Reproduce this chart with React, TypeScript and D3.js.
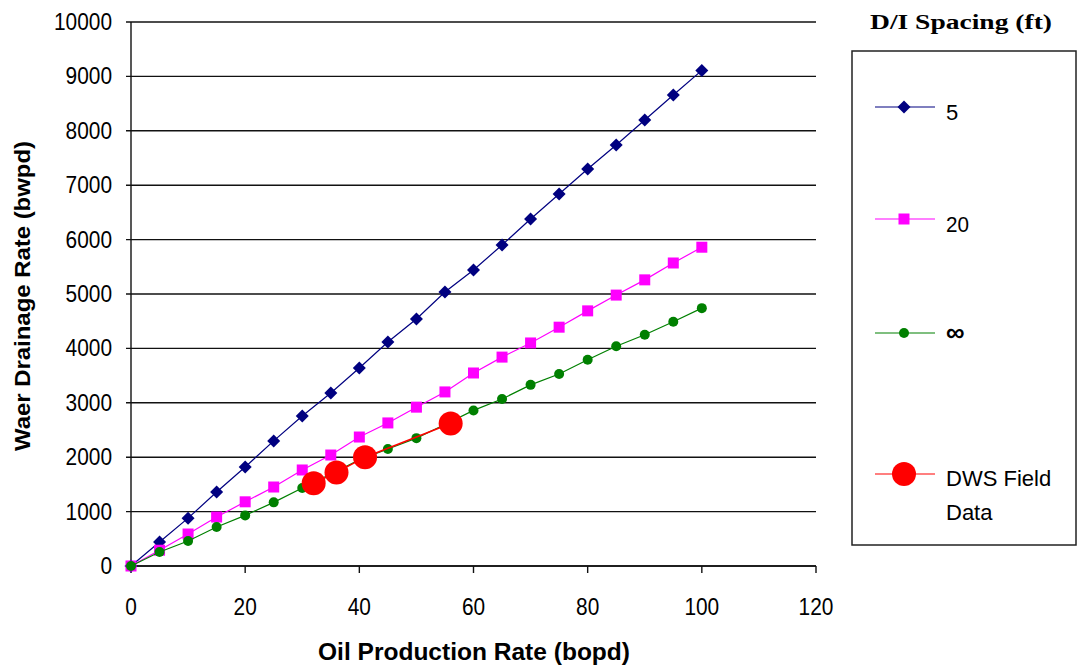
import React from "react";
import * as d3 from "d3";

const oilRates = [0, 5, 10, 15, 20, 25, 30, 35, 40, 45, 50, 55, 60, 65, 70, 75, 80, 85, 90, 95, 100];
const spacing5 = [0, 440, 880, 1360, 1820, 2300, 2757, 3180, 3640, 4118, 4540, 5037, 5441, 5900, 6378, 6838, 7298, 7739, 8199, 8658, 9110];
const spacing20 = [0, 290, 588, 900, 1180, 1452, 1765, 2040, 2371, 2630, 2920, 3200, 3548, 3840, 4100, 4390, 4690, 4980, 5260, 5570, 5860];
const spacingInf = [0, 257, 460, 717, 930, 1170, 1434, 1690, 1950, 2150, 2350, 2600, 2860, 3070, 3330, 3530, 3790, 4040, 4250, 4490, 4740];
const fieldOil = [32, 36, 41, 56];
const fieldWater = [1520, 1720, 2000, 2620];
const xTicks = [0, 20, 40, 60, 80, 100, 120];
const yTicks = [0, 1000, 2000, 3000, 4000, 5000, 6000, 7000, 8000, 9000, 10000];
const legendLabels = ["5", "20", "\u221E", "DWS Field Data"];

const x = d3.scaleLinear().domain([0, 120]).range([131, 816]);
const y = d3.scaleLinear().domain([0, 10000]).range([566, 22]);

const SANS = "'Liberation Sans', Arial, sans-serif";
const DIGIT_W = 11.6;

function Marker({ kind, cx, cy, color }: { kind: string; cx: number; cy: number; color: string }) {
  if (kind === "diamond") {
    const r = 6.5;
    return <path d={`M${cx},${cy - r}L${cx + r},${cy}L${cx},${cy + r}L${cx - r},${cy}Z`} fill={color} />;
  }
  if (kind === "square") {
    return <rect x={cx - 5.5} y={cy - 5.5} width={11} height={11} fill={color} />;
  }
  if (kind === "big") {
    return <circle cx={cx} cy={cy} r={12} fill={color} />;
  }
  return <circle cx={cx} cy={cy} r={5} fill={color} />;
}

function Num({ value, xx, yy, anchor }: { value: number; xx: number; yy: number; anchor: string }) {
  const s = String(value);
  return (
    <text
      x={xx}
      y={yy}
      textAnchor={anchor}
      fontFamily={SANS}
      fontSize={23}
      textLength={s.length * DIGIT_W}
      lengthAdjust="spacingAndGlyphs"
      fill="#000"
    >
      {s}
    </text>
  );
}

export default function App() {
  const line = d3
    .line<[number, number]>()
    .x((d) => x(d[0]))
    .y((d) => y(d[1]));

  const series = [
    { values: spacing5, color: "#000080", kind: "diamond" },
    { values: spacing20, color: "#FF00FF", kind: "square" },
    { values: spacingInf, color: "#008000", kind: "circle" },
  ];
  const field = fieldOil.map((o, i) => [o, fieldWater[i]] as [number, number]);

  const legendRows = [
    { y: 107, color: "#000080", kind: "diamond" },
    { y: 219, color: "#FF00FF", kind: "square" },
    { y: 333, color: "#008000", kind: "circle" },
    { y: 474, color: "#FF0000", kind: "big" },
  ];

  return (
    <svg width={1080} height={667} style={{ position: "absolute", left: 0, top: 0, background: "#fff" }}>
      {/* gridlines */}
      {yTicks.map((t) => (
        <g key={"g" + t}>
          <line x1={126} x2={816} y1={y(t)} y2={y(t)} stroke="#111" strokeWidth={1.4} />
          <Num value={t} xx={112} yy={y(t) + 8} anchor="end" />
        </g>
      ))}
      {/* y axis */}
      <line x1={131} x2={131} y1={22} y2={566} stroke="#111" strokeWidth={1.4} />
      {/* x axis */}
      <line x1={131} x2={816} y1={566} y2={566} stroke="#111" strokeWidth={1.4} />
      {xTicks.map((t) => (
        <g key={"x" + t}>
          <line x1={x(t)} x2={x(t)} y1={566} y2={573} stroke="#111" strokeWidth={1.4} />
          <Num value={t} xx={x(t)} yy={615} anchor="middle" />
        </g>
      ))}

      {/* series */}
      {series.map((s, si) => {
        const pts = oilRates.map((o, i) => [o, s.values[i]] as [number, number]);
        return (
          <g key={"s" + si}>
            <path d={line(pts) || ""} fill="none" stroke={s.color} strokeWidth={1.2} />
            {pts.map((p, i) => (
              <Marker key={i} kind={s.kind} cx={x(p[0])} cy={y(p[1])} color={s.color} />
            ))}
          </g>
        );
      })}
      <g>
        <path d={line(field) || ""} fill="none" stroke="#FF0000" strokeWidth={1.5} />
        {field.map((p, i) => (
          <Marker key={i} kind="big" cx={x(p[0])} cy={y(p[1])} color="#FF0000" />
        ))}
      </g>

      {/* axis titles */}
      <text
        x={474}
        y={660}
        textAnchor="middle"
        fontFamily={SANS}
        fontWeight="bold"
        fontSize={23}
        textLength={312}
        lengthAdjust="spacingAndGlyphs"
        fill="#000"
      >
        Oil Production Rate (bopd)
      </text>
      <text
        transform="translate(30,296) rotate(-90)"
        textAnchor="middle"
        fontFamily={SANS}
        fontWeight="bold"
        fontSize={22}
        textLength={310}
        lengthAdjust="spacingAndGlyphs"
        fill="#000"
      >
        Waer Drainage Rate (bwpd)
      </text>

      {/* legend */}
      <text
        x={961}
        y={29}
        textAnchor="middle"
        fontFamily="'Liberation Serif', 'Times New Roman', serif"
        fontWeight="bold"
        fontSize={20}
        textLength={182}
        lengthAdjust="spacingAndGlyphs"
        fill="#000"
      >
        D/I Spacing (ft)
      </text>
      <rect x={852} y={51} width={224} height={494} fill="#fff" stroke="#222" strokeWidth={1.5} />
      {legendRows.map((r, i) => (
        <g key={"l" + i}>
          <line x1={875} x2={935} y1={r.y} y2={r.y} stroke={r.color} strokeWidth={1.2} />
          <Marker kind={r.kind} cx={904} cy={r.y} color={r.color} />
        </g>
      ))}
      <text x={946} y={120} fontFamily={SANS} fontSize={22} fill="#000">{legendLabels[0]}</text>
      <text x={946} y={232} fontFamily={SANS} fontSize={22} textLength={23} lengthAdjust="spacingAndGlyphs" fill="#000">{legendLabels[1]}</text>
      <text x={946} y={341} fontFamily={SANS} fontSize={26} fontWeight="bold" fill="#000">{legendLabels[2]}</text>
      <text x={946} y={486} fontFamily={SANS} fontSize={22} fill="#000">
        <tspan x={946}>DWS Field</tspan>
        <tspan x={946} dy={34}>Data</tspan>
      </text>
    </svg>
  );
}
